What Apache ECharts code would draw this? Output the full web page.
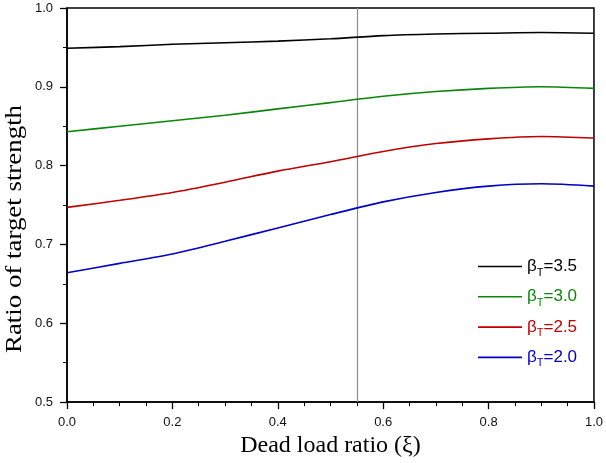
<!DOCTYPE html>
<html>
<head>
<meta charset="utf-8">
<script src="https://cdn.jsdelivr.net/npm/echarts@6/dist/echarts.min.js"></script>
<style>
  html, body { margin: 0; padding: 0; background: #fff; }
  #chart { width: 606px; height: 463px; }
</style>
</head>
<body>
<div id="chart"></div>
<script>
// Dead load ratio (xi) sample points
const xi = [0.0, 0.1, 0.2, 0.3, 0.4, 0.5, 0.6, 0.7, 0.8, 0.9, 1.0];

// Ratio of target strength for each target reliability index beta_T
const beta35 = [0.949, 0.951, 0.954, 0.956, 0.958, 0.961, 0.965, 0.967, 0.968, 0.969, 0.968];
const beta30 = [0.843, 0.850, 0.857, 0.864, 0.872, 0.880, 0.888, 0.894, 0.898, 0.900, 0.898];
const beta25 = [0.747, 0.756, 0.766, 0.779, 0.793, 0.805, 0.818, 0.828, 0.834, 0.837, 0.835];
const beta20 = [0.664, 0.676, 0.688, 0.704, 0.721, 0.738, 0.754, 0.766, 0.774, 0.777, 0.774];

const seriesNames = ['3.5', '3.0', '2.5', '2.0'];
const seriesValues = [beta35, beta30, beta25, beta20];
const seriesColors = ['#000000', '#0a870a', '#c00000', '#0000c8'];

// Reference dead load ratio marked with a vertical line
const markerXi = 0.55;

const xTicks = { min: 0, max: 1, interval: 0.2 };
const yTicks = { min: 0.5, max: 1.0, interval: 0.1 };

const chart = echarts.init(document.getElementById('chart'));

const rich = {};
seriesColors.forEach((c, i) => {
  rich['m' + i] = { color: c, fontSize: 17, fontFamily: 'Liberation Sans' };
  rich['s' + i] = { color: c, fontSize: 11, fontFamily: 'Liberation Sans', padding: [12, 0, 0, 0] };
});

const series = seriesNames.map((name, i) => ({
  name: name,
  type: 'line',
  data: xi.map((x, k) => [x, seriesValues[i][k]]),
  showSymbol: false,
  symbol: 'none',
  smooth: 0.3,
  lineStyle: { color: seriesColors[i], width: 1.6 },
  itemStyle: { color: seriesColors[i] },
  z: 3
}));

series[0].markLine = {
  silent: true,
  symbol: 'none',
  label: { show: false },
  lineStyle: { color: '#8c8c8c', width: 1.2, type: 'solid' },
  data: [{ xAxis: markerXi }],
  z: 1
};

const axisLabelStyle = { color: '#111', fontSize: 13, fontFamily: 'Liberation Sans' };
const axisNameStyle = { color: '#000', fontSize: 24, fontFamily: 'Liberation Serif' };

chart.setOption({
  animation: false,
  backgroundColor: '#fff',
  grid: {
    left: 67, right: 10, top: 8, bottom: 59,
    show: true, borderColor: '#000', borderWidth: 1.5, backgroundColor: 'transparent'
  },
  legend: {
    orient: 'vertical',
    left: 478,
    top: 258,
    padding: 0,
    icon: 'rect',
    itemWidth: 44,
    itemHeight: 1.6,
    itemGap: 10.3,
    data: seriesNames.map(n => ({ name: n })),
    formatter: name => {
      const i = seriesNames.indexOf(name);
      return '{m' + i + '|β}{s' + i + '|T}{m' + i + '|=' + name + '}';
    },
    textStyle: { rich: rich }
  },
  graphic: [{
    type: 'text',
    x: 15,
    y: 229,
    rotation: Math.PI / 2,
    scaleX: 1.12,
    style: {
      text: 'Ratio of target strength',
      fill: '#000',
      font: '24px "Liberation Serif"',
      align: 'center',
      verticalAlign: 'middle'
    }
  }],
  xAxis: {
    type: 'value',
    min: xTicks.min, max: xTicks.max, interval: xTicks.interval,
    name: 'Dead load ratio (ξ)',
    nameLocation: 'middle',
    nameGap: 28,
    nameTextStyle: axisNameStyle,
    axisLine: { show: true, lineStyle: { color: '#000', width: 1.5 } },
    axisTick: { show: true, length: 7, lineStyle: { color: '#000', width: 1.3 } },
    minorTick: { show: true, splitNumber: 4, length: 4, lineStyle: { color: '#000', width: 1 } },
    splitLine: { show: false },
    axisLabel: Object.assign({ margin: 14, formatter: v => v.toFixed(1) }, axisLabelStyle)
  },
  yAxis: {
    type: 'value',
    min: yTicks.min, max: yTicks.max, interval: yTicks.interval,
    axisLine: { show: true, lineStyle: { color: '#000', width: 1.5 } },
    axisTick: { show: true, length: 7, lineStyle: { color: '#000', width: 1.3 } },
    minorTick: { show: true, splitNumber: 2, length: 4, lineStyle: { color: '#000', width: 1 } },
    splitLine: { show: false },
    axisLabel: Object.assign({ margin: 14, formatter: v => v.toFixed(1) }, axisLabelStyle)
  },
  series: series
});
</script>
</body>
</html>
